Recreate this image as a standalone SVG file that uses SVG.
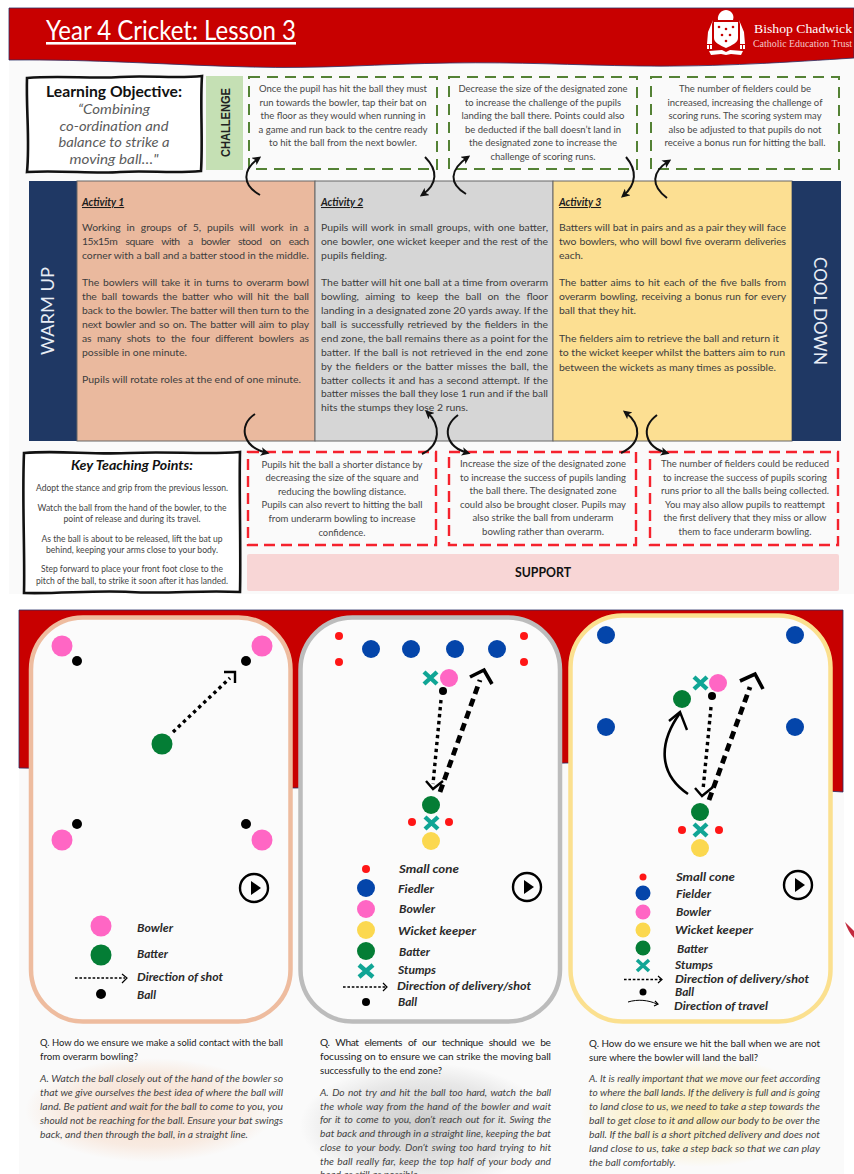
<svg xmlns="http://www.w3.org/2000/svg" width="854" height="1174" viewBox="0 0 854 1174">
<style>
text{font-family:Lato,"Open Sans","Liberation Sans",sans-serif}
.b{font-size:10.4px;fill:#3d3d3d}
.act{font-size:10.4px;font-weight:700;font-style:italic;fill:#1c1c1c;text-decoration:underline}
.c{font-size:9.4px;fill:#484848;text-anchor:middle}
.k{font-size:8.6px;fill:#444;text-anchor:middle}
.q{font-size:10.2px;fill:#222}
.a{font-size:10.2px;font-style:italic;fill:#444}
.l{font-size:12px;font-weight:700;font-style:italic;fill:#2a2a2a}
.s{font-size:11px}
.side{font-size:18px;fill:#e8edf5;text-anchor:middle}
.ov{font-size:13px;font-style:italic;fill:#5c5c5c;text-anchor:middle}
.gd{fill:none;stroke:#548235;stroke-width:2;stroke-dasharray:11 7}
.rd{fill:none;stroke:#f5222d;stroke-width:2.4;stroke-dasharray:11 6}
.wav{fill:#fff;stroke:#111;stroke-width:2.6}
.arc{fill:none;stroke:#111;stroke-width:2;marker-end:url(#ah)}
.pk{fill:#ff66c4}.gn{fill:#047d35}.bk{fill:#000}.bl{fill:#0445aa}.yl{fill:#fbd84f}.cn{fill:#ff1616}
.x{stroke:#10a595;stroke-width:4.4;fill:none}
.dot{fill:none;stroke:#000;stroke-width:3.4;stroke-dasharray:3.4 3.6}
.dotb{fill:none;stroke:#000;stroke-width:4.8;stroke-dasharray:8 5}
.hd{fill:none;stroke:#000;stroke-width:2.4}
.hdb{fill:none;stroke:#000;stroke-width:3.6}
.lg{fill:none;stroke:#000;stroke-width:1.5;stroke-dasharray:2.6 1.8}
.lh{fill:none;stroke:#000;stroke-width:1.2}
.card{fill:#fbfbfb;stroke-width:4.5}
.pl{fill:none;stroke:#000;stroke-width:2.4}
</style>
<defs>
<marker id="ah" viewBox="0 0 10 10" refX="7" refY="5" markerWidth="4.4" markerHeight="4.4" markerUnits="strokeWidth" orient="auto"><path d="M0 0L10 5L0 10L2.5 5Z" fill="#111"/></marker>
<radialGradient id="go"><stop offset="0" stop-color="#f4c7a8" stop-opacity=".6"/><stop offset=".7" stop-color="#f4c7a8" stop-opacity=".3"/><stop offset="1" stop-color="#f4c7a8" stop-opacity="0"/></radialGradient>
<radialGradient id="gg"><stop offset="0" stop-color="#b5b5b5" stop-opacity=".7"/><stop offset=".7" stop-color="#bdbdbd" stop-opacity=".3"/><stop offset="1" stop-color="#bdbdbd" stop-opacity="0"/></radialGradient>
<radialGradient id="gy"><stop offset="0" stop-color="#fbe07f" stop-opacity=".6"/><stop offset=".7" stop-color="#fbe07f" stop-opacity=".25"/><stop offset="1" stop-color="#fbe07f" stop-opacity="0"/></radialGradient>
</defs>
<rect width="854" height="1174" fill="#fff"/>

<g id="lesson-sheet">
<rect x="9" y="55" width="845" height="539" fill="#fafafa"/>
<path id="header" d="M9 8H854V58C790 62 720 67 640 66C570 65 520 62 450 63C380 64 320 69 250 67C170 65 90 59 9 60Z" fill="#c80000" stroke="#2a2f66" stroke-width=".8"/>
<text x="46" y="40" font-size="26" fill="#fff" textLength="250" lengthAdjust="spacingAndGlyphs" text-decoration="underline">Year 4 Cricket: Lesson 3</text>
<g id="logo" fill="#fff">
<path d="M718 20C717 14 722 10 726 10C730 10 735 14 733 20Z"/>
<path d="M714 22H738V38C738 43 732 45 726 48C720 45 714 43 714 38Z"/>
<circle cx="719" cy="27" r="1.3" fill="#c80000"/><circle cx="726" cy="29" r="1.3" fill="#c80000"/><circle cx="733" cy="27" r="1.3" fill="#c80000"/><circle cx="722" cy="35" r="1.3" fill="#c80000"/><circle cx="730" cy="35" r="1.3" fill="#c80000"/><circle cx="726" cy="41" r="1.3" fill="#c80000"/>
<path d="M713 20L708 32L707 44H712V24ZM739 20L744 32L745 44H740V24Z"/>
<rect x="707" y="45" width="2" height="4"/><rect x="710" y="45" width="2" height="4"/><rect x="740" y="45" width="2" height="4"/><rect x="743" y="45" width="2" height="4"/>
<path d="M709 51L722 50L726 52L730 50L743 51L741 55L731 54L726 55L721 54L711 55Z"/>
<text x="754" y="33" font-size="13.5" textLength="98" lengthAdjust="spacingAndGlyphs" style="font-family:'Liberation Serif',serif">Bishop Chadwick</text>
<text x="753" y="47" font-size="10" textLength="99" lengthAdjust="spacingAndGlyphs" fill="#f4c9c9" style="font-family:'Liberation Serif',serif">Catholic Education Trust</text>
</g>

<g id="learning-objective">
<path class="wav" d="M27 78C60 75 90 79 120 77C150 75 175 79 202 76C200 105 203 140 201 171C170 174 150 170 120 172C95 174 60 170 27 172C30 140 26 110 27 78Z"/>
<text x="114" y="97" font-size="14.5" font-weight="700" fill="#111" text-anchor="middle" textLength="136" lengthAdjust="spacingAndGlyphs">Learning Objective:</text>
<text class="ov" x="114" y="114" textLength="72" lengthAdjust="spacingAndGlyphs">“Combining</text>
<text class="ov" x="114" y="131" textLength="109" lengthAdjust="spacingAndGlyphs">co-ordination and</text>
<text class="ov" x="114" y="147" textLength="111" lengthAdjust="spacingAndGlyphs">balance to strike a</text>
<text class="ov" x="114" y="164" textLength="89" lengthAdjust="spacingAndGlyphs">moving ball…"</text>
</g>

<g id="challenge-label">
<rect x="206" y="76" width="37" height="94" fill="#c5e0b4"/>
<text transform="translate(230 122.5) rotate(-90)" font-size="12.5" font-weight="700" fill="#222" text-anchor="middle" textLength="69" lengthAdjust="spacingAndGlyphs" style="font-family:'Liberation Sans',sans-serif">CHALLENGE</text>
</g>

<g id="challenge-1">
<rect class="gd" x="249" y="77" width="188" height="92"/>
<text class="c" x="343" y="92" textLength="168" lengthAdjust="spacingAndGlyphs">Once the pupil has hit the ball they must</text>
<text class="c" x="343" y="106" textLength="167" lengthAdjust="spacingAndGlyphs">run towards the bowler, tap their bat on</text>
<text class="c" x="343" y="119" textLength="165" lengthAdjust="spacingAndGlyphs">the floor as they would when running in</text>
<text class="c" x="343" y="133" textLength="169" lengthAdjust="spacingAndGlyphs">a game and run back to the centre ready</text>
<text class="c" x="343" y="146" textLength="148" lengthAdjust="spacingAndGlyphs">to hit the ball from the next bowler.</text>
</g>
<g id="challenge-2">
<rect class="gd" x="449" y="77" width="188" height="92"/>
<text class="c" x="543" y="92" textLength="169" lengthAdjust="spacingAndGlyphs">Decrease the size of the designated zone</text>
<text class="c" x="543" y="106" textLength="156" lengthAdjust="spacingAndGlyphs">to increase the challenge of the pupils</text>
<text class="c" x="543" y="119" textLength="163" lengthAdjust="spacingAndGlyphs">landing the ball there. Points could also</text>
<text class="c" x="543" y="133" textLength="156" lengthAdjust="spacingAndGlyphs">be deducted if the ball doesn’t land in</text>
<text class="c" x="543" y="146" textLength="148" lengthAdjust="spacingAndGlyphs">the designated zone to increase the</text>
<text class="c" x="543" y="160" textLength="105" lengthAdjust="spacingAndGlyphs">challenge of scoring runs.</text>
</g>
<g id="challenge-3">
<rect class="gd" x="651" y="77" width="188" height="92"/>
<text class="c" x="745" y="92" textLength="132" lengthAdjust="spacingAndGlyphs">The number of fielders could be</text>
<text class="c" x="745" y="106" textLength="155" lengthAdjust="spacingAndGlyphs">increased, increasing the challenge of</text>
<text class="c" x="745" y="119" textLength="153" lengthAdjust="spacingAndGlyphs">scoring runs. The scoring system may</text>
<text class="c" x="745" y="133" textLength="153" lengthAdjust="spacingAndGlyphs">also be adjusted to that pupils do not</text>
<text class="c" x="745" y="146" textLength="161" lengthAdjust="spacingAndGlyphs">receive a bonus run for hitting the ball.</text>
</g>

<g id="warm-up">
<rect x="29" y="181" width="48" height="260" fill="#1f3864"/>
<text class="side" transform="translate(54 311) rotate(-90)" textLength="88" lengthAdjust="spacingAndGlyphs">WARM UP</text>
</g>
<g id="activity-1">
<rect x="77" y="181" width="238" height="260" fill="#eab99e" stroke="#666" stroke-width="1"/>
<text class="act" x="82" y="206">Activity 1</text>
<text class="b" x="82" y="231" word-spacing="3.4" textLength="227">Working in groups of 5, pupils will work in a</text>
<text class="b" x="82" y="245" word-spacing="6" textLength="227">15x15m square with a bowler stood on each</text>
<text class="b" x="82" y="259" textLength="227" lengthAdjust="spacingAndGlyphs">corner with a ball and a batter stood in the middle.</text>
<text class="b" x="82" y="286" word-spacing="1.3" textLength="227">The bowlers will take it in turns to overarm bowl</text>
<text class="b" x="82" y="300" word-spacing="2.2" textLength="227">the ball towards the batter who will hit the ball</text>
<text class="b" x="82" y="314" textLength="227" lengthAdjust="spacingAndGlyphs">back to the bowler. The batter will then turn to the</text>
<text class="b" x="82" y="328" word-spacing="1.2" textLength="227">next bowler and so on. The batter will aim to play</text>
<text class="b" x="82" y="342" word-spacing="3.2" textLength="227">as many shots to the four different bowlers as</text>
<text class="b" x="82" y="356" textLength="105" lengthAdjust="spacingAndGlyphs">possible in one minute.</text>
<text class="b" x="82" y="383" textLength="219" lengthAdjust="spacingAndGlyphs">Pupils will rotate roles at the end of one minute.</text>
</g>
<g id="activity-2">
<rect x="315" y="181" width="238" height="260" fill="#d6d6d6" stroke="#666" stroke-width="1"/>
<text class="act" x="321" y="206">Activity 2</text>
<text class="b" x="321" y="231" word-spacing="1" textLength="227">Pupils will work in small groups, with one batter,</text>
<text class="b" x="321" y="245" word-spacing=".6" textLength="227">one bowler, one wicket keeper and the rest of the</text>
<text class="b" x="321" y="259" textLength="66" lengthAdjust="spacingAndGlyphs">pupils fielding.</text>
<text class="b" x="321" y="286" textLength="227" lengthAdjust="spacingAndGlyphs">The batter will hit one ball at a time from overarm</text>
<text class="b" x="321" y="300" word-spacing="3.6" textLength="227">bowling, aiming to keep the ball on the floor</text>
<text class="b" x="321" y="314" textLength="227" lengthAdjust="spacingAndGlyphs">landing in a designated zone 20 yards away. If the</text>
<text class="b" x="321" y="328" word-spacing="1.5" textLength="227">ball is successfully retrieved by the fielders in the</text>
<text class="b" x="321" y="342" textLength="227" lengthAdjust="spacingAndGlyphs">end zone, the ball remains there as a point for the</text>
<text class="b" x="321" y="356" word-spacing=".8" textLength="227">batter. If the ball is not retrieved in the end zone</text>
<text class="b" x="321" y="370" word-spacing="1.2" textLength="227">by the fielders or the batter misses the ball, the</text>
<text class="b" x="321" y="384" word-spacing="1" textLength="227">batter collects it and has a second attempt. If the</text>
<text class="b" x="321" y="397" textLength="227" lengthAdjust="spacingAndGlyphs">batter misses the ball they lose 1 run and if the ball</text>
<text class="b" x="321" y="411" textLength="147" lengthAdjust="spacingAndGlyphs">hits the stumps they lose 2 runs.</text>
</g>
<g id="activity-3">
<rect x="553" y="181" width="239" height="260" fill="#fcdf92" stroke="#666" stroke-width="1"/>
<text class="act" x="559" y="206">Activity 3</text>
<text class="b" x="559" y="231" textLength="227" lengthAdjust="spacingAndGlyphs">Batters will bat in pairs and as a pair they will face</text>
<text class="b" x="559" y="245" word-spacing=".8" textLength="227">two bowlers, who will bowl five overarm deliveries</text>
<text class="b" x="559" y="259" textLength="24" lengthAdjust="spacingAndGlyphs">each.</text>
<text class="b" x="559" y="286" word-spacing="1.2" textLength="227">The batter aims to hit each of the five balls from</text>
<text class="b" x="559" y="300" word-spacing="1.2" textLength="227">overarm bowling, receiving a bonus run for every</text>
<text class="b" x="559" y="314" textLength="77" lengthAdjust="spacingAndGlyphs">ball that they hit.</text>
<text class="b" x="559" y="342" textLength="220" lengthAdjust="spacingAndGlyphs">The fielders aim to retrieve the ball and return it</text>
<text class="b" x="559" y="356" textLength="226" lengthAdjust="spacingAndGlyphs">to the wicket keeper whilst the batters aim to run</text>
<text class="b" x="559" y="371" textLength="217" lengthAdjust="spacingAndGlyphs">between the wickets as many times as possible.</text>
</g>
<g id="cool-down">
<rect x="792" y="181" width="49" height="260" fill="#1f3864"/>
<text class="side" transform="translate(814 311) rotate(90)" textLength="108" lengthAdjust="spacingAndGlyphs">COOL DOWN</text>
</g>

<g id="key-teaching-points">
<path class="wav" d="M24 453C60 450 90 455 130 453C170 451 205 455 240 452C239 490 241 550 240 592C200 590 170 594 130 592C95 590 60 594 24 593C25 550 22 500 24 453Z"/>
<text x="132" y="470" font-size="12.5" font-weight="700" font-style="italic" fill="#111" text-anchor="middle" textLength="122" lengthAdjust="spacingAndGlyphs">Key Teaching Points:</text>
<text class="k" x="132" y="491" textLength="192" lengthAdjust="spacingAndGlyphs">Adopt the stance and grip from the previous lesson.</text>
<text class="k" x="132" y="511" textLength="189" lengthAdjust="spacingAndGlyphs">Watch the ball from the hand of the bowler, to the</text>
<text class="k" x="132" y="522" textLength="137" lengthAdjust="spacingAndGlyphs">point of release and during its travel.</text>
<text class="k" x="132" y="542" textLength="181" lengthAdjust="spacingAndGlyphs">As the ball is about to be released, lift the bat up</text>
<text class="k" x="132" y="553" textLength="172" lengthAdjust="spacingAndGlyphs">behind, keeping your arms close to your body.</text>
<text class="k" x="132" y="572" textLength="182" lengthAdjust="spacingAndGlyphs">Step forward to place your front foot close to the</text>
<text class="k" x="132" y="584" textLength="192" lengthAdjust="spacingAndGlyphs">pitch of the ball, to strike it soon after it has landed.</text>
</g>
<g id="support-1">
<rect class="rd" x="248" y="452" width="188" height="93"/>
<text class="c" x="342" y="468" textLength="161" lengthAdjust="spacingAndGlyphs">Pupils hit the ball a shorter distance by</text>
<text class="c" x="342" y="481" textLength="153" lengthAdjust="spacingAndGlyphs">decreasing the size of the square and</text>
<text class="c" x="342" y="495" textLength="128" lengthAdjust="spacingAndGlyphs">reducing the bowling distance.</text>
<text class="c" x="342" y="508" textLength="161" lengthAdjust="spacingAndGlyphs">Pupils can also revert to hitting the ball</text>
<text class="c" x="342" y="522" textLength="147" lengthAdjust="spacingAndGlyphs">from underarm bowling to increase</text>
<text class="c" x="342" y="536" textLength="47" lengthAdjust="spacingAndGlyphs">confidence.</text>
</g>
<g id="support-2">
<rect class="rd" x="449" y="452" width="187" height="93"/>
<text class="c" x="543" y="467" textLength="166" lengthAdjust="spacingAndGlyphs">Increase the size of the designated zone</text>
<text class="c" x="543" y="481" textLength="166" lengthAdjust="spacingAndGlyphs">to increase the success of pupils landing</text>
<text class="c" x="543" y="494" textLength="147" lengthAdjust="spacingAndGlyphs">the ball there. The designated zone</text>
<text class="c" x="543" y="508" textLength="166" lengthAdjust="spacingAndGlyphs">could also be brought closer. Pupils may</text>
<text class="c" x="543" y="521" textLength="141" lengthAdjust="spacingAndGlyphs">also strike the ball from underarm</text>
<text class="c" x="543" y="535" textLength="122" lengthAdjust="spacingAndGlyphs">bowling rather than overarm.</text>
</g>
<g id="support-3">
<rect class="rd" x="650" y="452" width="188" height="93"/>
<text class="c" x="745" y="467" textLength="168" lengthAdjust="spacingAndGlyphs">The number of fielders could be reduced</text>
<text class="c" x="745" y="481" textLength="164" lengthAdjust="spacingAndGlyphs">to increase the success of pupils scoring</text>
<text class="c" x="745" y="494" textLength="168" lengthAdjust="spacingAndGlyphs">runs prior to all the balls being collected.</text>
<text class="c" x="745" y="508" textLength="160" lengthAdjust="spacingAndGlyphs">You may also allow pupils to reattempt</text>
<text class="c" x="745" y="521" textLength="163" lengthAdjust="spacingAndGlyphs">the first delivery that they miss or allow</text>
<text class="c" x="745" y="535" textLength="133" lengthAdjust="spacingAndGlyphs">them to face underarm bowling.</text>
</g>
<g id="support-label">
<rect x="247" y="554" width="592" height="37" rx="2" fill="#f8d6d6"/>
<text x="543" y="577" font-size="12.5" font-weight="700" fill="#111" text-anchor="middle" textLength="56" lengthAdjust="spacingAndGlyphs">SUPPORT</text>
</g>

<g id="connectors">
<path class="arc" d="M260 195C242 185 242 170 259 158"/>
<path class="arc" d="M425 157C438 170 438 184 422 195"/>
<path class="arc" d="M466 194C449 184 449 170 468 157"/>
<path class="arc" d="M626 157C637 170 637 184 623 196"/>
<path class="arc" d="M667 198C651 186 651 172 669 161"/>
<path class="arc" d="M255 414C238 425 242 447 267 453"/>
<path class="arc" d="M422 454C441 445 441 425 427 412"/>
<path class="arc" d="M458 415C441 428 446 447 468 453"/>
<path class="arc" d="M621 453C642 443 642 425 625 412"/>
<path class="arc" d="M657 415C640 428 645 447 667 453"/>
</g>
</g>

<g id="diagram-sheet">
<rect x="19" y="760" width="825" height="414" fill="#fafafa"/>
<path id="red-band" d="M19 610H843V792C760 788 650 762 567 763C480 764 380 788 295 788C200 788 100 768 19 768Z" fill="#c80000" stroke="#2a2f66" stroke-width=".8"/>

<g id="panel-warm-up">
<rect class="card" x="31" y="617.5" width="259.5" height="404" rx="52" stroke="#eebc9f"/>
<circle class="pk" cx="62" cy="646" r="10.5"/><circle class="pk" cx="262" cy="646" r="10.5"/><circle class="pk" cx="62" cy="840" r="10.5"/><circle class="pk" cx="262" cy="840" r="10.5"/>
<circle class="bk" cx="77" cy="661" r="5"/><circle class="bk" cx="246" cy="661" r="5"/><circle class="bk" cx="77" cy="824" r="5"/><circle class="bk" cx="246" cy="824" r="5"/>
<circle class="gn" cx="162" cy="744" r="10.5"/>
<path class="dot" d="M173 732L230 678"/><path class="hd" d="M224 672H235V683"/>
<circle class="pl" cx="254" cy="888" r="14"/><path d="M251 881L261 888L251 895Z"/>
<circle class="pk" cx="101" cy="926" r="10.5"/><circle class="gn" cx="101" cy="955" r="10.5"/>
<path class="lg" d="M75 978H125"/><path class="lh" d="M122 974L127 978L122 983"/>
<circle class="bk" cx="101" cy="994" r="5"/>
<text class="l" x="137" y="932" textLength="36" lengthAdjust="spacingAndGlyphs">Bowler</text>
<text class="l" x="137" y="958" textLength="31" lengthAdjust="spacingAndGlyphs">Batter</text>
<text class="l" x="137" y="981" textLength="86" lengthAdjust="spacingAndGlyphs">Direction of shot</text>
<text class="l" x="137" y="999" textLength="19" lengthAdjust="spacingAndGlyphs">Ball</text>
</g>

<g id="panel-activity-2">
<rect class="card" x="300.5" y="617.5" width="259.5" height="404" rx="52" stroke="#bcbcbc"/>
<circle class="cn" cx="339" cy="636" r="4"/><circle class="cn" cx="339" cy="662" r="4"/><circle class="cn" cx="524" cy="636" r="4"/><circle class="cn" cx="524" cy="662" r="4"/>
<circle class="bl" cx="371" cy="649" r="9"/><circle class="bl" cx="411" cy="649" r="9"/><circle class="bl" cx="455" cy="649" r="9"/><circle class="bl" cx="497" cy="649" r="9"/>
<path class="x" d="M424 672L437 684M437 672L424 684"/>
<circle class="pk" cx="449" cy="678" r="9"/><circle class="bk" cx="443" cy="691" r="4"/>
<path class="dot" d="M441 700L433 784"/><path class="hd" d="M426 781L433 789L443 781"/>
<path class="dotb" d="M440 792L480 680"/><path class="hdb" d="M470 677L484 670L492 684"/>
<circle class="gn" cx="431" cy="805" r="9"/>
<path class="x" d="M425 817L438 829M438 817L425 829"/>
<circle class="cn" cx="412" cy="822" r="4"/><circle class="cn" cx="449" cy="822" r="4"/>
<circle class="yl" cx="431" cy="841" r="9"/>
<circle class="pl" cx="527" cy="887" r="14"/><path d="M524 880L534 887L524 894Z"/>
<circle class="cn" cx="366" cy="869" r="4"/><circle class="bl" cx="366" cy="888" r="9"/><circle class="pk" cx="366" cy="909" r="9"/><circle class="yl" cx="366" cy="930" r="9"/><circle class="gn" cx="366" cy="951" r="9"/>
<path class="x" d="M359 965L373 977M373 965L359 977"/>
<path class="lg" d="M343 987H386"/><path class="lh" d="M383 983L387 987L383 991"/>
<circle class="bk" cx="366" cy="1002" r="4"/>
<text class="l" x="399" y="873" textLength="60" lengthAdjust="spacingAndGlyphs">Small cone</text>
<text class="l" x="398" y="893" textLength="36" lengthAdjust="spacingAndGlyphs">Fiedler</text>
<text class="l" x="399" y="913" textLength="36" lengthAdjust="spacingAndGlyphs">Bowler</text>
<text class="l" x="398" y="935" textLength="78" lengthAdjust="spacingAndGlyphs">Wicket keeper</text>
<text class="l" x="399" y="956" textLength="31" lengthAdjust="spacingAndGlyphs">Batter</text>
<text class="l" x="398" y="974" textLength="38" lengthAdjust="spacingAndGlyphs">Stumps</text>
<text class="l" x="397" y="990" textLength="134" lengthAdjust="spacingAndGlyphs">Direction of delivery/shot</text>
<text class="l" x="398" y="1006" textLength="19" lengthAdjust="spacingAndGlyphs">Ball</text>
</g>

<g id="panel-activity-3">
<rect class="card" x="570.5" y="615.5" width="260" height="406" rx="52" stroke="#fbe08f"/>
<circle class="bl" cx="606" cy="635" r="9"/><circle class="bl" cx="795" cy="635" r="9"/><circle class="bl" cx="606" cy="727" r="9"/><circle class="bl" cx="795" cy="727" r="9"/>
<path class="x" d="M694 677L707 689M707 677L694 689"/>
<circle class="pk" cx="718" cy="683" r="9"/><circle class="bk" cx="712" cy="696" r="4"/>
<circle class="gn" cx="682" cy="699" r="9"/>
<path fill="none" stroke="#000" stroke-width="2.6" d="M688 794C660 775 657 745 680 713"/><path class="hd" d="M669 721L680 712L687 730"/>
<path class="dot" d="M711 707L703 790"/><path class="hd" d="M695 788L702 796L713 787"/>
<path class="dotb" d="M709 800L750 687"/><path class="hdb" d="M740 681L755 674L763 689"/>
<circle class="gn" cx="700" cy="812" r="9"/>
<path class="x" d="M694 824L707 836M707 824L694 836"/>
<circle class="cn" cx="682" cy="830" r="4"/><circle class="cn" cx="719" cy="830" r="4"/>
<circle class="yl" cx="700" cy="848" r="9"/>
<circle class="pl" cx="798" cy="885" r="14"/><path d="M795 878L805 885L795 892Z"/>
<circle class="cn" cx="643" cy="877" r="3.5"/><circle class="bl" cx="643" cy="893" r="7.5"/><circle class="pk" cx="643" cy="912" r="7.5"/><circle class="yl" cx="643" cy="930" r="7.5"/><circle class="gn" cx="643" cy="948" r="7.5"/>
<path class="x" style="stroke-width:3.6" d="M637 960L649 971M649 960L637 971"/>
<path class="lg" d="M624 979.5H661"/><path class="lh" d="M658 976L662 979.5L658 983"/>
<circle class="bk" cx="643" cy="992" r="3.5"/>
<path fill="none" stroke="#000" stroke-width="1" d="M628 1002C638 999 648 1000 657 1004"/><path class="lh" d="M655 1001L658 1004L654 1006"/>
<text class="l" x="676" y="881" textLength="59" lengthAdjust="spacingAndGlyphs">Small cone</text>
<text class="l" x="676" y="898" textLength="35" lengthAdjust="spacingAndGlyphs">Fielder</text>
<text class="l" x="676" y="916" textLength="35" lengthAdjust="spacingAndGlyphs">Bowler</text>
<text class="l" x="675" y="934" textLength="78" lengthAdjust="spacingAndGlyphs">Wicket keeper</text>
<text class="l" x="677" y="953" textLength="31" lengthAdjust="spacingAndGlyphs">Batter</text>
<text class="l" x="675" y="969" textLength="38" lengthAdjust="spacingAndGlyphs">Stumps</text>
<text class="l" x="675" y="983" textLength="134" lengthAdjust="spacingAndGlyphs">Direction of delivery/shot</text>
<text class="l s" x="675" y="996" textLength="19" lengthAdjust="spacingAndGlyphs">Ball</text>
<text class="l s" x="674" y="1010" textLength="94" lengthAdjust="spacingAndGlyphs">Direction of travel</text>
</g>
<path id="red-mark" d="M845 922C847 928 850 934 854 938V931C851 928 848 925 845 922Z" fill="#c22a3e"/>

<g id="question-1">
<ellipse cx="150" cy="1110" rx="125" ry="52" fill="url(#go)"/>
<text class="q" x="40" y="1046" textLength="243" lengthAdjust="spacingAndGlyphs">Q. How do we ensure we make a solid contact with the ball</text>
<text class="q" x="40" y="1060" textLength="98" lengthAdjust="spacingAndGlyphs">from overarm bowling?</text>
<text class="a" x="40" y="1082" textLength="243" lengthAdjust="spacingAndGlyphs">A. Watch the ball closely out of the hand of the bowler so</text>
<text class="a" x="40" y="1096" textLength="243" lengthAdjust="spacingAndGlyphs">that we give ourselves the best idea of where the ball will</text>
<text class="a" x="40" y="1110" textLength="243" lengthAdjust="spacingAndGlyphs">land. Be patient and wait for the ball to come to you, you</text>
<text class="a" x="40" y="1124" textLength="243" lengthAdjust="spacingAndGlyphs">should not be reaching for the ball. Ensure your bat swings</text>
<text class="a" x="40" y="1138" textLength="208" lengthAdjust="spacingAndGlyphs">back, and then through the ball, in a straight line.</text>
</g>
<g id="question-2">
<ellipse cx="425" cy="1125" rx="125" ry="62" fill="url(#gg)"/>
<text class="q" x="320" y="1046" word-spacing="3.6" textLength="231">Q. What elements of our technique should we be</text>
<text class="q" x="320" y="1060" textLength="231" lengthAdjust="spacingAndGlyphs">focussing on to ensure we can strike the moving ball</text>
<text class="q" x="320" y="1074" textLength="122" lengthAdjust="spacingAndGlyphs">successfully to the end zone?</text>
<text class="a" x="320" y="1096" word-spacing="1.4" textLength="231">A. Do not try and hit the ball too hard, watch the ball</text>
<text class="a" x="320" y="1110" word-spacing=".8" textLength="231">the whole way from the hand of the bowler and wait</text>
<text class="a" x="320" y="1123" word-spacing="1.4" textLength="231">for it to come to you, don’t reach out for it. Swing the</text>
<text class="a" x="320" y="1137" textLength="231" lengthAdjust="spacingAndGlyphs">bat back and through in a straight line, keeping the bat</text>
<text class="a" x="320" y="1151" word-spacing="1.4" textLength="231">close to your body. Don’t swing too hard trying to hit</text>
<text class="a" x="320" y="1165" word-spacing="1" textLength="231">the ball really far, keep the top half of your body and</text>
<text class="a" x="320" y="1178" textLength="100" lengthAdjust="spacingAndGlyphs">head as still as possible.</text>
</g>
<g id="question-3">
<ellipse cx="700" cy="1112" rx="120" ry="55" fill="url(#gy)"/>
<text class="q" x="589" y="1047" textLength="231" lengthAdjust="spacingAndGlyphs">Q. How do we ensure we hit the ball when we are not</text>
<text class="q" x="589" y="1061" textLength="169" lengthAdjust="spacingAndGlyphs">sure where the bowler will land the ball?</text>
<text class="a" x="589" y="1082" textLength="231" lengthAdjust="spacingAndGlyphs">A. It is really important that we move our feet according</text>
<text class="a" x="589" y="1096" textLength="231" lengthAdjust="spacingAndGlyphs">to where the ball lands. If the delivery is full and is going</text>
<text class="a" x="589" y="1110" textLength="231" lengthAdjust="spacingAndGlyphs">to land close to us, we need to take a step towards the</text>
<text class="a" x="589" y="1124" textLength="231" lengthAdjust="spacingAndGlyphs">ball to get close to it and allow our body to be over the</text>
<text class="a" x="589" y="1138" textLength="231" lengthAdjust="spacingAndGlyphs">ball. If the ball is a short pitched delivery and does not</text>
<text class="a" x="589" y="1152" textLength="231" lengthAdjust="spacingAndGlyphs">land close to us, take a step back so that we can play</text>
<text class="a" x="589" y="1166" textLength="87" lengthAdjust="spacingAndGlyphs">the ball comfortably.</text>
</g>
</g>
</svg>
